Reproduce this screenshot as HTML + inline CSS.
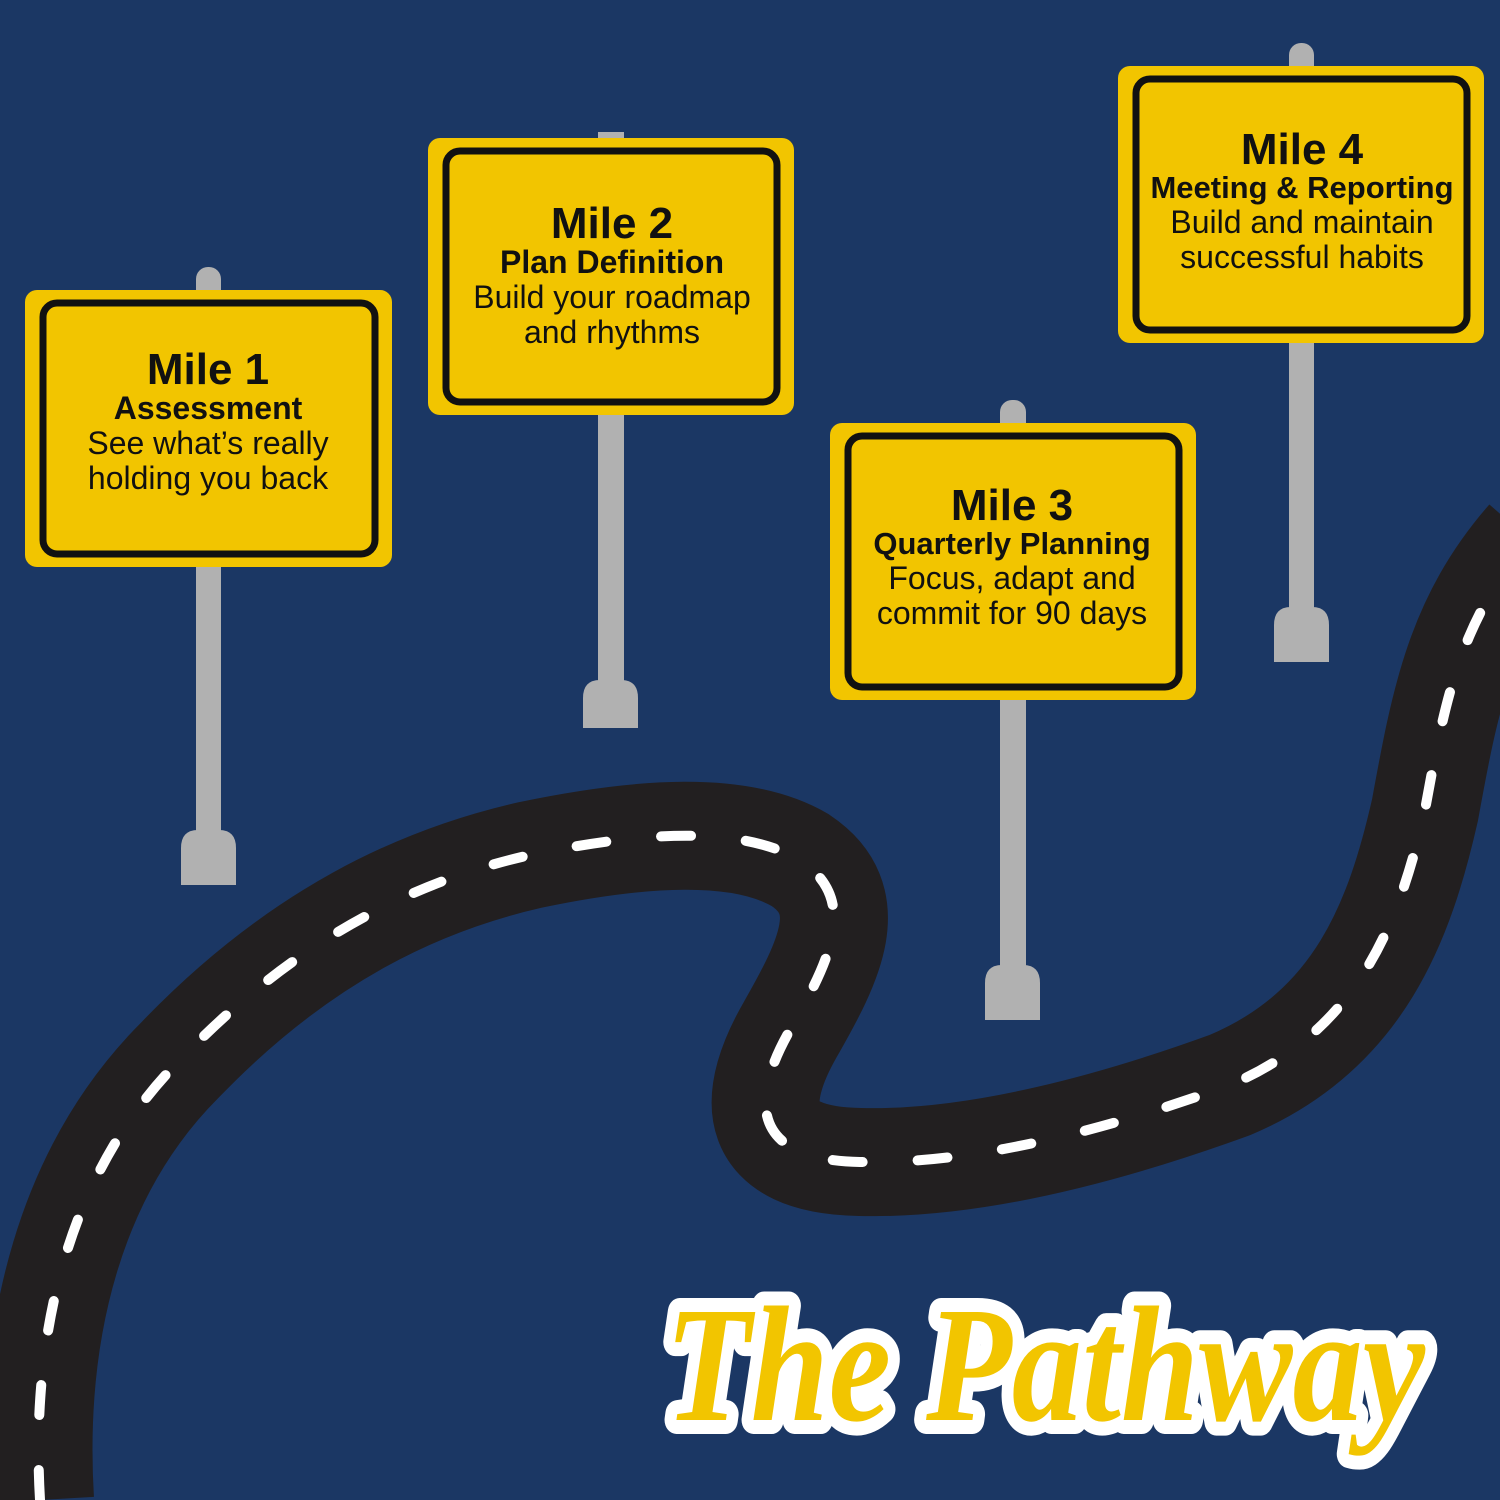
<!DOCTYPE html>
<html><head><style>
html,body{margin:0;padding:0;background:#1b3764}
svg{display:block}
</style></head><body>
<svg width="1500" height="1500" viewBox="0 0 1500 1500" xmlns="http://www.w3.org/2000/svg">
<rect width="1500" height="1500" fill="#1b3764"/>
<path d="M40,1500 C30,1330 70,1170 180,1060 C300,935 420,880 530,855 C640,832 740,825 800,860 C860,900 830,960 790,1030 C750,1100 750,1160 860,1162 C980,1165 1120,1125 1230,1085 C1360,1030 1400,920 1425,810 C1445,700 1460,620 1530,540" fill="none" stroke="#221f20" stroke-width="108" stroke-linecap="butt"/>
<path d="M40,1500 C30,1330 70,1170 180,1060 C300,935 420,880 530,855 C640,832 740,825 800,860 C860,900 830,960 790,1030 C750,1100 750,1160 860,1162 C980,1165 1120,1125 1230,1085 C1360,1030 1400,920 1425,810 C1445,700 1460,620 1530,540" fill="none" stroke="#fff" stroke-width="10" stroke-dasharray="30 55" stroke-linecap="round"/>
<g fill="#b1b1b1">
<rect x="196" y="267" width="25" height="600" rx="12"/><path d="M181,885 V848 Q181,830 198,830 H219 Q236,830 236,848 V885Z"/>
<rect x="598" y="132" width="26" height="570" rx="0"/><path d="M583,728 V698 Q583,680 600,680 H621 Q638,680 638,698 V728Z"/>
<rect x="1000" y="400" width="26" height="590" rx="12"/><path d="M985,1020 V983 Q985,965 1002,965 H1023 Q1040,965 1040,983 V1020Z"/>
<rect x="1289" y="43" width="25" height="590" rx="12"/><path d="M1274,662 V625 Q1274,607 1291,607 H1312 Q1329,607 1329,625 V662Z"/>
</g>
<g font-family="Liberation Sans, DejaVu Sans, sans-serif" text-anchor="middle" fill="#111">
<g>
<rect x="25" y="290" width="367" height="277" rx="12" fill="#f2c500"/>
<rect x="43" y="303" width="332" height="251" rx="14" fill="none" stroke="#111" stroke-width="7"/>
<text x="208" y="384" font-size="44" font-weight="bold">Mile 1</text>
<text x="208" y="419" font-size="32" font-weight="bold">Assessment</text>
<text x="208" y="454" font-size="32">See what’s really</text>
<text x="208" y="489" font-size="32">holding you back</text>
</g>
<g>
<rect x="428" y="138" width="366" height="277" rx="12" fill="#f2c500"/>
<rect x="446" y="151" width="331" height="251" rx="14" fill="none" stroke="#111" stroke-width="7"/>
<text x="612" y="238" font-size="44" font-weight="bold">Mile 2</text>
<text x="612" y="273" font-size="32" font-weight="bold">Plan Definition</text>
<text x="612" y="308" font-size="32">Build your roadmap</text>
<text x="612" y="343" font-size="32">and rhythms</text>
</g>
<g>
<rect x="830" y="423" width="366" height="277" rx="12" fill="#f2c500"/>
<rect x="848" y="436" width="331" height="251" rx="14" fill="none" stroke="#111" stroke-width="7"/>
<text x="1012" y="520" font-size="44" font-weight="bold">Mile 3</text>
<text x="1012" y="554" font-size="31" font-weight="bold">Quarterly Planning</text>
<text x="1012" y="589" font-size="32">Focus, adapt and</text>
<text x="1012" y="624" font-size="32">commit for 90 days</text>
</g>
<g>
<rect x="1118" y="66" width="366" height="277" rx="12" fill="#f2c500"/>
<rect x="1136" y="79" width="331" height="251" rx="14" fill="none" stroke="#111" stroke-width="7"/>
<text x="1302" y="164" font-size="44" font-weight="bold">Mile 4</text>
<text x="1302" y="198" font-size="31" font-weight="bold">Meeting &amp; Reporting</text>
<text x="1302" y="233" font-size="32">Build and maintain</text>
<text x="1302" y="268" font-size="32">successful habits</text>
</g>
</g>
<text x="1045" y="1420" text-anchor="middle" font-family="Liberation Serif, serif" font-style="italic" font-weight="bold" font-size="165" fill="#f2c500" stroke="#fff" stroke-width="28" stroke-linejoin="round" paint-order="stroke" textLength="760" lengthAdjust="spacingAndGlyphs">The Pathway</text>
</svg>
</body></html>
